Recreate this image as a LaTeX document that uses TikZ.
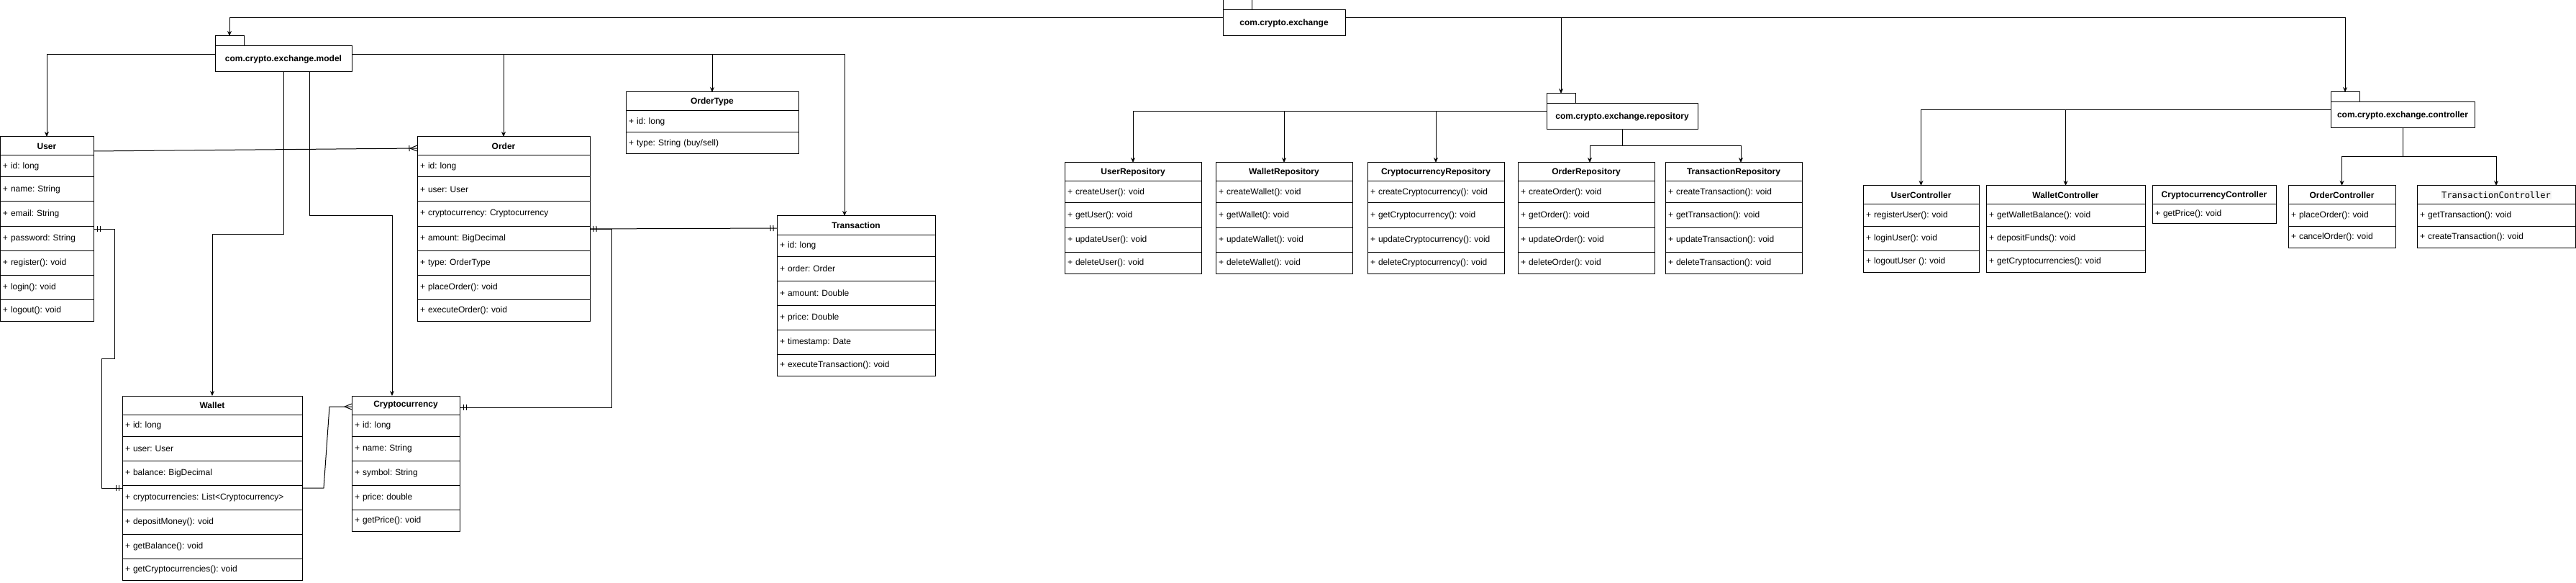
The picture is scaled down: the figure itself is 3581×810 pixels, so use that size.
\documentclass[tikz,border=0pt]{standalone}
\usepackage{fontspec}
\setmainfont{Liberation Sans}
\setmonofont{DejaVu Sans Mono}
\usepackage{tikz}
\usetikzlibrary{arrows.meta,decorations.markings}
\usetikzlibrary{positioning}
\definecolor{codebg}{HTML}{F5F5F5}
\setlength{\fboxsep}{1pt}
\newcommand{\umlfont}{\fontsize{12}{14}\selectfont\frenchspacing}
\tikzset{
    classhead/.style={
           rectangle,
           draw=black,
           minimum height=26pt,
           inner sep=0pt, outer sep=0pt,
           font=\umlfont\bfseries,
           text centered,
           },
    classrow/.style={
           rectangle,
           draw=black,
           inner xsep=4pt, inner ysep=0pt, outer sep=0pt,
           font=\umlfont,
           align=left,
           },
    pkg/.style={
           rectangle,
           draw=black,
           minimum height=36pt,
           inner sep=0pt, outer sep=0pt,
           font=\umlfont\bfseries,
           },
    pkgtab/.style={rectangle, draw=black, minimum width=40pt, minimum height=14pt,
           inner sep=0pt, outer sep=0pt},
    pkgline/.style={->},
    assoc/.style={-},
    mandone start/.style={postaction={decorate,decoration={markings,
           mark=at position 0 with {\draw[-] (5pt,-4pt) -- (5pt,4pt) (9pt,-4pt) -- (9pt,4pt);}}}},
    mandone end/.style={postaction={decorate,decoration={markings,
           mark=at position 1 with {\draw[-] (-5pt,-4pt) -- (-5pt,4pt) (-9pt,-4pt) -- (-9pt,4pt);}}}},
    many end/.style={postaction={decorate,decoration={markings,
           mark=at position 1 with {\draw[-] (-10pt,0pt) -- (0pt,4pt) (-10pt,0pt) -- (0pt,-4pt);}}}},
    onemany end/.style={postaction={decorate,decoration={markings,
           mark=at position 1 with {\draw[-] (-10pt,0pt) -- (0pt,4pt) (-10pt,0pt) -- (0pt,-4pt)
                                             (-11pt,-4pt) -- (-11pt,4pt);}}}},
}

% class box: name, x, y (top left), width, header, rows
% rows are stacked one below the other, 30/34/30 high as in the drawing
\newcommand{\umlclass}[6]{%
 \node[classhead, minimum width=#4pt, anchor=north west, alias=#1-0] (#1) at (#2,#3) {#5};
 \pgfmathsetmacro\tw{#4-8}
 \foreach \r [count=\k] in {#6} {\xdef\nrows{\k}}
 \foreach \r [count=\i, remember=\i as \ip (initially 0)] in {#6} {
   \pgfmathsetmacro\rowh{\nrows==1 ? 26 : ((\i==1 || \i==\nrows) ? 30 : 34)}
   \node[classrow, text width=\tw pt, minimum height=\rowh pt, below=0pt of #1-\ip] (#1-\i) {\r};
 }
}

\begin{document}
\begin{tikzpicture}[x=1pt,y=-1pt,line width=1pt,>={Stealth[length=7pt,width=6pt]}]
 \useasboundingbox (0,0) rectangle (3581,810);

 % packages: body, with its tab on the top left corner
 \node[pkg,minimum width=170pt,anchor=north west] (exchange) at (1700,14) {com.crypto.exchange};
 \node[pkgtab,anchor=south west] (exchange-tab) at (exchange.north west) {};

 \node[pkg,minimum width=190pt,anchor=north west] (model) at (299,64) {com.crypto.exchange.model};
 \node[pkgtab,anchor=south west] (model-tab) at (model.north west) {};

 \node[pkg,minimum width=210pt,anchor=north west] (repository) at (2150,144) {com.crypto.exchange.repository};
 \node[pkgtab,anchor=south west] (repository-tab) at (repository.north west) {};

 \node[pkg,minimum width=200pt,anchor=north west] (controller) at (3240,142) {com.crypto.exchange.controller};
 \node[pkgtab,anchor=south west] (controller-tab) at (controller.north west) {};

 % model classes
 \umlclass{User}{0}{190}{130}{User}{+ id: long, + name: String, + email: String, + password: String,
   + register(): void, + login(): void, + logout(): void}
 \umlclass{Order}{580}{190}{240}{Order}{+ id: long, + user: User, + cryptocurrency: Cryptocurrency,
   + amount: BigDecimal, + type: OrderType, + placeOrder(): void, + executeOrder(): void}
 \umlclass{OrderType}{870}{128}{240}{OrderType}{+ id: long, + type: String (buy/sell)}
 \umlclass{Transaction}{1080}{300}{220}{Transaction}{+ id: long, + order: Order, + amount: Double,
   + price: Double, + timestamp: Date, + executeTransaction(): void}
 \umlclass{Wallet}{170}{550}{250}{Wallet}{+ id: long, + user: User, + balance: BigDecimal,
   + cryptocurrencies: List<Cryptocurrency>, + depositMoney(): void, + getBalance(): void,
   + getCryptocurrencies(): void}
 \umlclass{Cryptocurrency}{489}{550}{150}{Cryptocurrency}{+ id: long, + name: String, + symbol: String,
   + price: double, + getPrice(): void}

 % repositories
 \umlclass{UserRepository}{1480}{226}{190}{UserRepository}{+ createUser(): void, + getUser(): void,
   + updateUser(): void, + deleteUser(): void}
 \umlclass{WalletRepository}{1690}{226}{190}{WalletRepository}{+ createWallet(): void, + getWallet(): void,
   + updateWallet(): void, + deleteWallet(): void}
 \umlclass{CryptocurrencyRepository}{1901}{226}{190}{CryptocurrencyRepository}{+ createCryptocurrency(): void,
   + getCryptocurrency(): void, + updateCryptocurrency(): void, + deleteCryptocurrency(): void}
 \umlclass{OrderRepository}{2110}{226}{190}{OrderRepository}{+ createOrder(): void, + getOrder(): void,
   + updateOrder(): void, + deleteOrder(): void}
 \umlclass{TransactionRepository}{2315}{226}{190}{TransactionRepository}{+ createTransaction(): void,
   + getTransaction(): void, + updateTransaction(): void, + deleteTransaction(): void}

 % controllers
 \umlclass{UserController}{2590}{258}{161}{UserController}{+ registerUser(): void, + loginUser(): void,
   + logoutUser (): void}
 \umlclass{WalletController}{2761}{258}{221}{WalletController}{+ getWalletBalance(): void,
   + depositFunds(): void, + getCryptocurrencies(): void}
 \umlclass{CryptocurrencyController}{2992}{258}{172}{CryptocurrencyController}{+ getPrice(): void}
 \umlclass{OrderController}{3181}{258}{149}{OrderController}{+ placeOrder(): void, + cancelOrder(): void}
 \umlclass{TransactionController}{3360}{258}{220}{\colorbox{codebg}{\mdseries\ttfamily TransactionController}}{+ getTransaction(): void,
   + createTransaction(): void}

 % package tree
 \draw[pkgline] ([yshift=7pt]exchange.west) -| (model-tab.north);
 \draw[pkgline] ([yshift=7pt]exchange.east) -| (repository-tab.north);
 \draw[pkgline] ([yshift=7pt]exchange.east) -| (controller-tab.north);

 \draw[pkgline] ([yshift=6pt]model.west) -| (User.north);
 \draw[pkgline] ([yshift=6pt]model.east) -| (Order.north);
 \draw[pkgline] ([yshift=6pt]model.east) -| (OrderType.north);
 \draw[pkgline] ([yshift=6pt]model.east) -| ([xshift=-16pt]Transaction.north);
 \draw[pkgline] (model.south) -- ++(0,225) -| (Wallet.north);
 \draw[pkgline] ([xshift=36pt]model.south) -- ++(0,200) -| ([xshift=-19pt]Cryptocurrency.north);

 \draw[pkgline] ([yshift=7pt]repository.west) -| (UserRepository.north);
 \draw[pkgline] ([yshift=7pt]repository.west) -| (WalletRepository.north);
 \draw[pkgline] ([yshift=7pt]repository.west) -| (CryptocurrencyRepository.north);
 \draw[pkgline] (repository.south) -- ++(0,23) -| ([xshift=5pt]OrderRepository.north);
 \draw[pkgline] (repository.south) -- ++(0,23) -| ([xshift=10pt]TransactionRepository.north);

 \draw[pkgline] ([yshift=7pt]controller.west) -| (UserController.north);
 \draw[pkgline] ([yshift=7pt]controller.west) -| (WalletController.north);
 \draw[pkgline] (controller.south) -- ++(0,40) -| (OrderController.north);
 \draw[pkgline] (controller.south) -- ++(0,40) -| (TransactionController.north);

 % associations between the model classes
 \draw[assoc,onemany end] ([yshift=-7pt]User.east) -- ([yshift=-3pt]Order.west);
 \draw[assoc,mandone start,mandone end] ([yshift=-4pt]User-4.north east) -- ++(29,0) -- ++(0,180)
   -- ++(-18,0) |- ([yshift=-4pt]Wallet-4.north west);
 \draw[assoc,mandone start,mandone end] ([yshift=-4pt]Order-4.north east) -- ([yshift=-4pt]Transaction.west);
 \draw[assoc,mandone end] ([yshift=-4pt]Order-4.north east) -- ++(30,0) |- ([yshift=-3pt]Cryptocurrency.east);
 \draw[assoc,many end] ([yshift=-4pt]Wallet-4.north east) -- ++(30,0) -- ++(8,-113)
   -- ([yshift=-2pt]Cryptocurrency.west);

\end{tikzpicture}
\end{document}
